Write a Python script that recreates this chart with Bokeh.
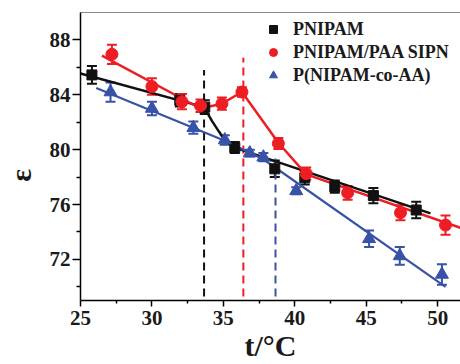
from bokeh.plotting import figure
from bokeh.models import (ColumnDataSource, Whisker, TeeHead, FixedTicker, Legend,
                          LegendItem, Range1d, LinearAxis)
from bokeh.embed import file_html
from bokeh.resources import INLINE

# ---- data ----
t_pnipam = [25.8, 31.95, 33.7, 35.8, 38.6, 40.7, 42.8, 45.5, 48.5]
e_pnipam = [85.45, 83.6, 83.1, 80.15, 78.6, 77.95, 77.3, 76.65, 75.6]
err_pnipam = [0.65, 0.45, 0.5, 0.4, 0.6, 0.5, 0.45, 0.55, 0.6]

t_sipn = [27.2, 30.0, 32.1, 33.4, 34.9, 36.3, 38.85, 40.8, 43.7, 47.4, 50.55]
e_sipn = [86.95, 84.6, 83.5, 83.2, 83.35, 84.2, 80.45, 78.25, 76.85, 75.4, 74.5]
err_sipn = [0.7, 0.6, 0.55, 0.45, 0.45, 0.35, 0.4, 0.45, 0.5, 0.55, 0.7]

t_co = [27.1, 30.0, 32.9, 35.1, 36.85, 37.8, 40.1, 45.2, 47.35, 50.3]
e_co = [84.2, 83.0, 81.6, 80.7, 79.75, 79.45, 77.0, 73.5, 72.25, 70.9]
err_co = [0.7, 0.5, 0.45, 0.35, 0.25, 0.3, 0.25, 0.6, 0.65, 0.75]

# fitted / guide curves
fit_pnipam_t = [25.0, 33.65, 34.2, 34.7, 35.1, 35.8, 49.5]
fit_pnipam_e = [85.55, 83.1, 82.1, 81.3, 80.7, 80.15, 75.35]
fit_sipn_t = [26.5, 33.4, 34.9, 36.3, 38.85, 40.8, 51.6]
fit_sipn_e = [86.85, 83.0, 83.35, 84.2, 80.5, 78.2, 74.3]
fit_co_t = [26.1, 35.1, 37.8, 50.55]
fit_co_e = [84.5, 80.65, 79.3, 70.0]

# transition temperatures (dashed lines): x, top
lcst_t = [33.65, 36.4, 38.65]
lcst_top = [85.8, 86.7, 79.5]
lcst_bottom = 69.3

labels = ["PNIPAM", "PNIPAM/PAA SIPN", "P(NIPAM-co-AA)"]
x_title = "t/°C"
y_title = "ε" + "\u00a0" * 5   # padding moves the symbol below the axis centre, as in the reference
x_major = [25, 30, 35, 40, 45, 50]
x_minor = [27.5, 32.5, 37.5, 42.5, 47.5]
y_major = [72, 76, 80, 84, 88]
y_minor = [70, 74, 78, 82, 86]

BLACK = "#111111"
RED = "#ee1d23"
BLUE = "#3752a6"
FONT = "Liberation Serif"

p = figure(width=460, height=364, output_backend="svg", toolbar_location=None,
           x_range=Range1d(25, 51.6), y_range=Range1d(69, 90),
           min_border_left=78, min_border_right=0, min_border_top=12,
           min_border_bottom=61)
p.outline_line_color = None
p.xgrid.visible = False
p.ygrid.visible = False
p.background_fill_color = "white"
p.border_fill_color = "white"

xa = p.below[0]
ya = p.left[0]
for ax in (xa, ya):
    ax.axis_line_width = 1.5
    ax.axis_line_color = "black"
    ax.major_tick_line_color = "black"
    ax.minor_tick_line_color = "black"
    ax.major_tick_line_width = 1.5
    ax.minor_tick_line_width = 1.5
    ax.major_tick_in = 0
    ax.minor_tick_in = 0
    ax.major_label_text_font = FONT
    ax.major_label_text_font_style = "bold"
    ax.major_label_text_font_size = "21px"
    ax.major_label_text_color = "#1a1a1a"
    ax.axis_label_text_font = FONT
    ax.axis_label_text_font_style = "bold"
    ax.axis_label_text_font_size = "30px"
    ax.axis_label_text_color = "#1a1a1a"

xa.ticker = FixedTicker(ticks=x_major, minor_ticks=x_minor)
ya.ticker = FixedTicker(ticks=y_major, minor_ticks=y_minor)
xa.major_tick_out = 6
xa.minor_tick_out = 3
ya.major_tick_out = 8
ya.minor_tick_out = 4
xa.major_label_standoff = 4
ya.major_label_standoff = 2
xa.axis_label = x_title
ya.axis_label = y_title
xa.axis_label_standoff = 1
ya.axis_label_standoff = 10

# top border (plain line, no ticks/labels)
top_ax = LinearAxis(ticker=FixedTicker(ticks=[]), axis_line_color="#8a8a8a",
                    axis_line_width=1, major_tick_line_color=None,
                    minor_tick_line_color=None, major_tick_out=0, minor_tick_out=0,
                    major_label_text_font_size="1px", major_label_standoff=0,
                    major_label_text_color=None)
p.add_layout(top_ax, "above")

# dashed transition lines
for xv, top, col in zip(lcst_t, lcst_top, [BLACK, RED, BLUE]):
    p.segment(x0=[xv], y0=[lcst_bottom], x1=[xv], y1=[top], line_color=col,
              line_width=2, line_dash="8 5")

# fit lines
p.line(fit_pnipam_t, fit_pnipam_e, line_color=BLACK, line_width=2.5)
p.line(fit_sipn_t, fit_sipn_e, line_color=RED, line_width=2.5)
p.line(fit_co_t, fit_co_e, line_color=BLUE, line_width=2.2)

series = [
    (t_pnipam, e_pnipam, err_pnipam, BLACK, "square", 10),
    (t_sipn, e_sipn, err_sipn, RED, "circle", 12),
    (t_co, e_co, err_co, BLUE, "triangle", 13),
]
renderers = []
for t, e, err, col, marker, size in series:
    src = ColumnDataSource(dict(x=t, y=e,
                                upper=[a + b for a, b in zip(e, err)],
                                lower=[a - b for a, b in zip(e, err)]))
    w = Whisker(source=src, base="x", upper="upper", lower="lower",
                dimension="height", line_color=col, line_width=2,
                upper_head=TeeHead(size=10, line_color=col, line_width=2),
                lower_head=TeeHead(size=10, line_color=col, line_width=2))
    p.add_layout(w)
    r = p.scatter("x", "y", source=src, marker=marker, size=size,
                  fill_color=col, line_color=col)
    renderers.append(r)

legend = Legend(items=[LegendItem(label=lab, renderers=[r]) for lab, r in zip(labels, renderers)],
                location=(183, 214), padding=0, margin=0, spacing=1,
                label_height=22, glyph_height=22, glyph_width=20, label_standoff=10,
                border_line_color=None, background_fill_alpha=0,
                label_text_font=FONT, label_text_font_style="bold",
                label_text_font_size="18px", label_text_color="#1a1a1a")
p.add_layout(legend)

open("out.html", "w").write(file_html(p, INLINE))
